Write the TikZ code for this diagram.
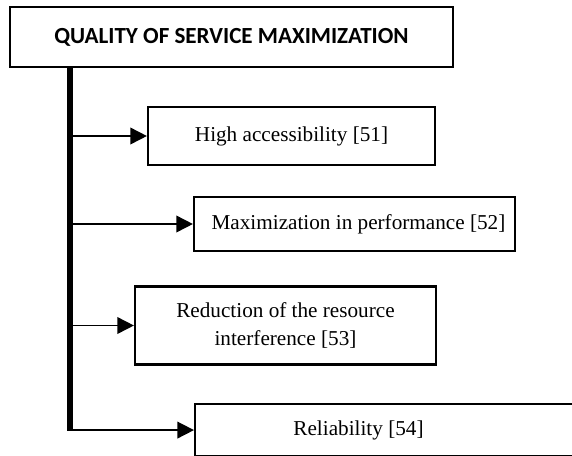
\documentclass[tikz,border=0pt]{standalone}
\usepackage{fontspec}
\setmainfont{Liberation Serif}
\newfontfamily\titlefont{Carlito}
\usetikzlibrary{arrows.meta}
\tikzset{
  px/.style={x=0.75pt,y=-0.75pt},
  box/.style={draw=black, line width=1.6pt, fill=white, inner sep=0pt, align=center,
    font=\fontsize{15.9pt}{21pt}\selectfont},
  txt/.style={inner sep=0pt, align=center, font=\fontsize{15.9pt}{21pt}\selectfont},
  titlebox/.style={draw=black, line width=1.9pt, inner sep=0pt,
    font=\titlefont\bfseries\fontsize{17.3pt}{20pt}\selectfont},
  trunk/.style={line width=4.4pt},
  arr/.style={line width=1.3pt, -{Triangle[length=12.5pt,width=12.5pt]}},
}
\begin{document}
\begin{tikzpicture}[px]
\useasboundingbox (0,0) rectangle (572,455);
\clip (0,0) rectangle (572,455);
\node[titlebox, minimum width=332.25pt, minimum height=45pt] (title) at (231.5,37) {QUALITY OF SERVICE MAXIMIZATION};
\node[box, minimum width=215.25pt, minimum height=43.5pt] (b1) at (291.5,136) {High accessibility [51]};
\node[box, minimum width=240.75pt, minimum height=40.5pt] (b2) at (354.5,224) {\hspace*{6pt}Maximization in performance [52]};
\node[box, minimum width=225.75pt, minimum height=58.5pt] (b3) at (285.5,325.5) {Reduction of the resource\\interference [53]};
\node[box, anchor=north west, minimum width=300pt, minimum height=39pt] (b4) at (194,403) {};
\node[txt] (b4t) at (358.5,430) {Reliability [54]};
\coordinate (t0) at (69.7,67);
\draw[trunk] (t0) -- ([yshift=-0.6pt]t0 |- b4.west);
\draw[arr] (t0 |- b1.west) -- (b1.west);
\draw[arr] (t0 |- b2.west) -- (b2.west);
\draw[arr] (t0 |- b3.west) -- (b3.west);
\draw[arr] (t0 |- b4.west) -- (b4.west);
\end{tikzpicture}
\end{document}
